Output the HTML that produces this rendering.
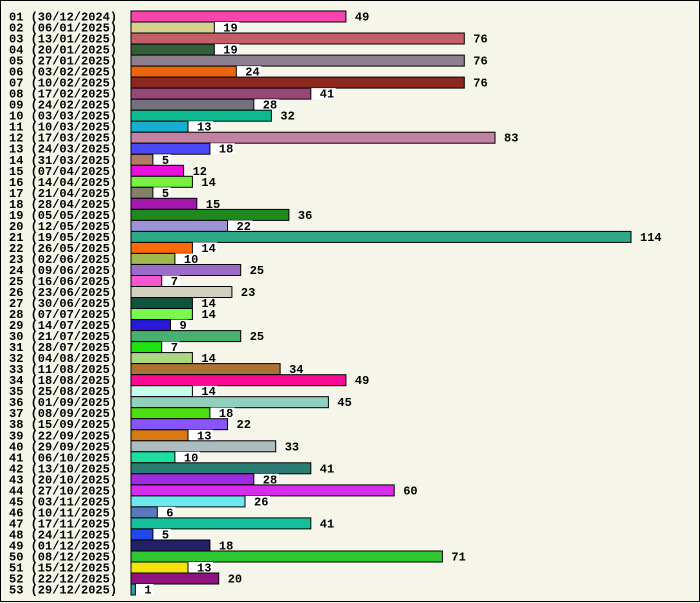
<!DOCTYPE html>
<html><head><meta charset="utf-8"><style>
html,body{margin:0;padding:0;background:#f5f5e9;}
svg{display:block}
text{font-family:"Liberation Mono",monospace;font-weight:bold;font-size:12px;fill:#000}
</style></head><body>
<svg width="700" height="603" viewBox="0 0 700 603" xmlns="http://www.w3.org/2000/svg">
<rect x="0.5" y="0.5" width="699" height="601" fill="#f5f5e9" stroke="#000" stroke-width="1"/>
<g id="rows">
<g transform="translate(0,11)"><text x="9" y="9.5">01 (30/12/2024)</text><rect x="131" y="0" width="214.9" height="11" fill="#f745ae" stroke="#000"/><text x="354.9" y="9.5">49</text></g>
<g transform="translate(0,22)"><rect x="214.3" y="0" width="25" height="11" fill="#fff"/><text x="9" y="9.5">02 (06/01/2025)</text><rect x="131" y="0" width="83.3" height="11" fill="#d8d290" stroke="#000"/><text x="223.3" y="9.5">19</text></g>
<g transform="translate(0,33)"><text x="9" y="9.5">03 (13/01/2025)</text><rect x="131" y="0" width="333.3" height="11" fill="#c45e68" stroke="#000"/><text x="473.3" y="9.5">76</text></g>
<g transform="translate(0,44.1)"><rect x="214.3" y="0" width="25" height="11" fill="#fff"/><text x="9" y="9.5">04 (20/01/2025)</text><rect x="131" y="0" width="83.3" height="11" fill="#336038" stroke="#000"/><text x="223.3" y="9.5">19</text></g>
<g transform="translate(0,55.1)"><text x="9" y="9.5">05 (27/01/2025)</text><rect x="131" y="0" width="333.3" height="11" fill="#8c8090" stroke="#000"/><text x="473.3" y="9.5">76</text></g>
<g transform="translate(0,66.1)"><rect x="236.3" y="0" width="25" height="11" fill="#fff"/><text x="9" y="9.5">06 (03/02/2025)</text><rect x="131" y="0" width="105.3" height="11" fill="#ec640e" stroke="#000"/><text x="245.3" y="9.5">24</text></g>
<g transform="translate(0,77.1)"><text x="9" y="9.5">07 (10/02/2025)</text><rect x="131" y="0" width="333.3" height="11" fill="#8c2820" stroke="#000"/><text x="473.3" y="9.5">76</text></g>
<g transform="translate(0,88.1)"><rect x="310.8" y="0" width="25" height="11" fill="#fff"/><text x="9" y="9.5">08 (17/02/2025)</text><rect x="131" y="0" width="179.8" height="11" fill="#984878" stroke="#000"/><text x="319.8" y="9.5">41</text></g>
<g transform="translate(0,99.2)"><rect x="253.8" y="0" width="25" height="11" fill="#fff"/><text x="9" y="9.5">09 (24/02/2025)</text><rect x="131" y="0" width="122.8" height="11" fill="#75707e" stroke="#000"/><text x="262.8" y="9.5">28</text></g>
<g transform="translate(0,110.2)"><text x="9" y="9.5">10 (03/03/2025)</text><rect x="131" y="0" width="140.4" height="11" fill="#0cba90" stroke="#000"/><text x="280.4" y="9.5">32</text></g>
<g transform="translate(0,121.2)"><rect x="188" y="0" width="25" height="11" fill="#fff"/><text x="9" y="9.5">11 (10/03/2025)</text><rect x="131" y="0" width="57" height="11" fill="#18aed2" stroke="#000"/><text x="197" y="9.5">13</text></g>
<g transform="translate(0,132.2)"><text x="9" y="9.5">12 (17/03/2025)</text><rect x="131" y="0" width="364" height="11" fill="#c282a2" stroke="#000"/><text x="504" y="9.5">83</text></g>
<g transform="translate(0,143.2)"><rect x="209.9" y="0" width="25" height="11" fill="#fff"/><text x="9" y="9.5">13 (24/03/2025)</text><rect x="131" y="0" width="78.9" height="11" fill="#4c48f8" stroke="#000"/><text x="218.9" y="9.5">18</text></g>
<g transform="translate(0,154.3)"><rect x="152.9" y="0" width="18" height="11" fill="#fff"/><text x="9" y="9.5">14 (31/03/2025)</text><rect x="131" y="0" width="21.9" height="11" fill="#b47a62" stroke="#000"/><text x="161.9" y="9.5">5</text></g>
<g transform="translate(0,165.3)"><text x="9" y="9.5">15 (07/04/2025)</text><rect x="131" y="0" width="52.6" height="11" fill="#ea10dc" stroke="#000"/><text x="192.6" y="9.5">12</text></g>
<g transform="translate(0,176.3)"><text x="9" y="9.5">16 (14/04/2025)</text><rect x="131" y="0" width="61.4" height="11" fill="#78f040" stroke="#000"/><text x="201.4" y="9.5">14</text></g>
<g transform="translate(0,187.3)"><rect x="152.9" y="0" width="18" height="11" fill="#fff"/><text x="9" y="9.5">17 (21/04/2025)</text><rect x="131" y="0" width="21.9" height="11" fill="#84806a" stroke="#000"/><text x="161.9" y="9.5">5</text></g>
<g transform="translate(0,198.3)"><text x="9" y="9.5">18 (28/04/2025)</text><rect x="131" y="0" width="65.8" height="11" fill="#a418b0" stroke="#000"/><text x="205.8" y="9.5">15</text></g>
<g transform="translate(0,209.4)"><text x="9" y="9.5">19 (05/05/2025)</text><rect x="131" y="0" width="157.9" height="11" fill="#1e8a1e" stroke="#000"/><text x="297.9" y="9.5">36</text></g>
<g transform="translate(0,220.4)"><rect x="227.5" y="0" width="25" height="11" fill="#fff"/><text x="9" y="9.5">20 (12/05/2025)</text><rect x="131" y="0" width="96.5" height="11" fill="#9c94d6" stroke="#000"/><text x="236.5" y="9.5">22</text></g>
<g transform="translate(0,231.4)"><text x="9" y="9.5">21 (19/05/2025)</text><rect x="131" y="0" width="500" height="11" fill="#2ea888" stroke="#000"/><text x="640" y="9.5">114</text></g>
<g transform="translate(0,242.4)"><rect x="192.4" y="0" width="25" height="11" fill="#fff"/><text x="9" y="9.5">22 (26/05/2025)</text><rect x="131" y="0" width="61.4" height="11" fill="#ff6a0a" stroke="#000"/><text x="201.4" y="9.5">14</text></g>
<g transform="translate(0,253.4)"><rect x="174.9" y="0" width="25" height="11" fill="#fff"/><text x="9" y="9.5">23 (02/06/2025)</text><rect x="131" y="0" width="43.9" height="11" fill="#a0b850" stroke="#000"/><text x="183.9" y="9.5">10</text></g>
<g transform="translate(0,264.5)"><text x="9" y="9.5">24 (09/06/2025)</text><rect x="131" y="0" width="109.7" height="11" fill="#9c6cc8" stroke="#000"/><text x="249.7" y="9.5">25</text></g>
<g transform="translate(0,275.5)"><rect x="161.7" y="0" width="18" height="11" fill="#fff"/><text x="9" y="9.5">25 (16/06/2025)</text><rect x="131" y="0" width="30.7" height="11" fill="#f458d0" stroke="#000"/><text x="170.7" y="9.5">7</text></g>
<g transform="translate(0,286.5)"><text x="9" y="9.5">26 (23/06/2025)</text><rect x="131" y="0" width="100.9" height="11" fill="#d4d0c0" stroke="#000"/><text x="240.9" y="9.5">23</text></g>
<g transform="translate(0,297.5)"><text x="9" y="9.5">27 (30/06/2025)</text><rect x="131" y="0" width="61.4" height="11" fill="#105440" stroke="#000"/><text x="201.4" y="9.5">14</text></g>
<g transform="translate(0,308.5)"><text x="9" y="9.5">28 (07/07/2025)</text><rect x="131" y="0" width="61.4" height="11" fill="#78f850" stroke="#000"/><text x="201.4" y="9.5">14</text></g>
<g transform="translate(0,319.6)"><rect x="170.5" y="0" width="18" height="11" fill="#fff"/><text x="9" y="9.5">29 (14/07/2025)</text><rect x="131" y="0" width="39.5" height="11" fill="#2818d8" stroke="#000"/><text x="179.5" y="9.5">9</text></g>
<g transform="translate(0,330.6)"><text x="9" y="9.5">30 (21/07/2025)</text><rect x="131" y="0" width="109.7" height="11" fill="#48b070" stroke="#000"/><text x="249.7" y="9.5">25</text></g>
<g transform="translate(0,341.6)"><rect x="161.7" y="0" width="18" height="11" fill="#fff"/><text x="9" y="9.5">31 (28/07/2025)</text><rect x="131" y="0" width="30.7" height="11" fill="#20e010" stroke="#000"/><text x="170.7" y="9.5">7</text></g>
<g transform="translate(0,352.6)"><text x="9" y="9.5">32 (04/08/2025)</text><rect x="131" y="0" width="61.4" height="11" fill="#a8d880" stroke="#000"/><text x="201.4" y="9.5">14</text></g>
<g transform="translate(0,363.6)"><text x="9" y="9.5">33 (11/08/2025)</text><rect x="131" y="0" width="149.1" height="11" fill="#ac7234" stroke="#000"/><text x="289.1" y="9.5">34</text></g>
<g transform="translate(0,374.7)"><text x="9" y="9.5">34 (18/08/2025)</text><rect x="131" y="0" width="214.9" height="11" fill="#fc0c94" stroke="#000"/><text x="354.9" y="9.5">49</text></g>
<g transform="translate(0,385.7)"><rect x="192.4" y="0" width="25" height="11" fill="#fff"/><text x="9" y="9.5">35 (25/08/2025)</text><rect x="131" y="0" width="61.4" height="11" fill="#c8fcec" stroke="#000"/><text x="201.4" y="9.5">14</text></g>
<g transform="translate(0,396.7)"><text x="9" y="9.5">36 (01/09/2025)</text><rect x="131" y="0" width="197.4" height="11" fill="#90d0bc" stroke="#000"/><text x="337.4" y="9.5">45</text></g>
<g transform="translate(0,407.7)"><rect x="209.9" y="0" width="25" height="11" fill="#fff"/><text x="9" y="9.5">37 (08/09/2025)</text><rect x="131" y="0" width="78.9" height="11" fill="#4ce010" stroke="#000"/><text x="218.9" y="9.5">18</text></g>
<g transform="translate(0,418.7)"><text x="9" y="9.5">38 (15/09/2025)</text><rect x="131" y="0" width="96.5" height="11" fill="#8854fc" stroke="#000"/><text x="236.5" y="9.5">22</text></g>
<g transform="translate(0,429.8)"><rect x="188" y="0" width="25" height="11" fill="#fff"/><text x="9" y="9.5">39 (22/09/2025)</text><rect x="131" y="0" width="57" height="11" fill="#d87a14" stroke="#000"/><text x="197" y="9.5">13</text></g>
<g transform="translate(0,440.8)"><text x="9" y="9.5">40 (29/09/2025)</text><rect x="131" y="0" width="144.7" height="11" fill="#acbcc0" stroke="#000"/><text x="284.7" y="9.5">33</text></g>
<g transform="translate(0,451.8)"><rect x="174.9" y="0" width="25" height="11" fill="#fff"/><text x="9" y="9.5">41 (06/10/2025)</text><rect x="131" y="0" width="43.9" height="11" fill="#1ce0a0" stroke="#000"/><text x="183.9" y="9.5">10</text></g>
<g transform="translate(0,462.8)"><text x="9" y="9.5">42 (13/10/2025)</text><rect x="131" y="0" width="179.8" height="11" fill="#2a7c74" stroke="#000"/><text x="319.8" y="9.5">41</text></g>
<g transform="translate(0,473.8)"><rect x="253.8" y="0" width="25" height="11" fill="#fff"/><text x="9" y="9.5">43 (20/10/2025)</text><rect x="131" y="0" width="122.8" height="11" fill="#a02ce0" stroke="#000"/><text x="262.8" y="9.5">28</text></g>
<g transform="translate(0,484.9)"><text x="9" y="9.5">44 (27/10/2025)</text><rect x="131" y="0" width="263.2" height="11" fill="#d82cec" stroke="#000"/><text x="403.2" y="9.5">60</text></g>
<g transform="translate(0,495.9)"><rect x="245" y="0" width="25" height="11" fill="#fff"/><text x="9" y="9.5">45 (03/11/2025)</text><rect x="131" y="0" width="114" height="11" fill="#6ce8ee" stroke="#000"/><text x="254" y="9.5">26</text></g>
<g transform="translate(0,506.9)"><rect x="157.3" y="0" width="18" height="11" fill="#fff"/><text x="9" y="9.5">46 (10/11/2025)</text><rect x="131" y="0" width="26.3" height="11" fill="#5c78bc" stroke="#000"/><text x="166.3" y="9.5">6</text></g>
<g transform="translate(0,517.9)"><text x="9" y="9.5">47 (17/11/2025)</text><rect x="131" y="0" width="179.8" height="11" fill="#14c09c" stroke="#000"/><text x="319.8" y="9.5">41</text></g>
<g transform="translate(0,528.9)"><rect x="152.9" y="0" width="18" height="11" fill="#fff"/><text x="9" y="9.5">48 (24/11/2025)</text><rect x="131" y="0" width="21.9" height="11" fill="#2048e8" stroke="#000"/><text x="161.9" y="9.5">5</text></g>
<g transform="translate(0,540)"><text x="9" y="9.5">49 (01/12/2025)</text><rect x="131" y="0" width="78.9" height="11" fill="#222068" stroke="#000"/><text x="218.9" y="9.5">18</text></g>
<g transform="translate(0,551)"><text x="9" y="9.5">50 (08/12/2025)</text><rect x="131" y="0" width="311.4" height="11" fill="#30c830" stroke="#000"/><text x="451.4" y="9.5">71</text></g>
<g transform="translate(0,562)"><rect x="188" y="0" width="25" height="11" fill="#fff"/><text x="9" y="9.5">51 (15/12/2025)</text><rect x="131" y="0" width="57" height="11" fill="#f4e40c" stroke="#000"/><text x="197" y="9.5">13</text></g>
<g transform="translate(0,573)"><text x="9" y="9.5">52 (22/12/2025)</text><rect x="131" y="0" width="87.7" height="11" fill="#901480" stroke="#000"/><text x="227.7" y="9.5">20</text></g>
<g transform="translate(0,584)"><rect x="135.4" y="0" width="18" height="11" fill="#fff"/><text x="9" y="9.5">53 (29/12/2025)</text><rect x="131" y="0" width="4.4" height="11" fill="#20a4a8" stroke="#000"/><text x="144.4" y="9.5">1</text></g>
</g>
</svg>
</body></html>
